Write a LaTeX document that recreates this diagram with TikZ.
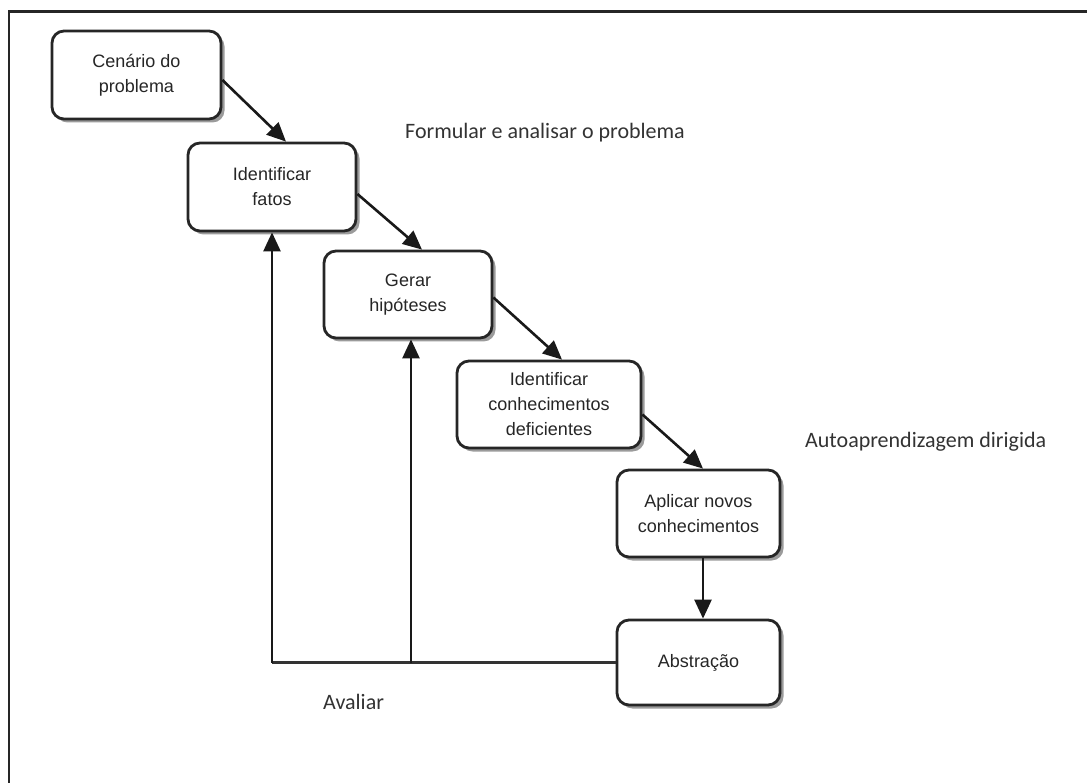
\documentclass[tikz,border=0pt]{standalone}
\usepackage{fontspec}
\setmainfont{Liberation Sans}
\newfontfamily\labfont{Carlito}
\usetikzlibrary{arrows.meta,shadows}
\definecolor{boxtext}{HTML}{262626}
\definecolor{labtext}{HTML}{333333}
\begin{document}
\begin{tikzpicture}[x=1pt,y=-1pt,
  stepbox/.style={draw=black!85, line width=2.8pt, rounded corners=12pt, fill=white,
    align=center, inner sep=0pt, text=boxtext,
    font=\fontsize{18}{25}\selectfont,
    drop shadow={shadow xshift=3.5pt, shadow yshift=-3.5pt, fill=black!60, opacity=0.65}},
  conn/.style={line width=2.6pt, draw=black!90, -{Triangle[width=17pt,length=19pt]}},
  plain/.style={line width=2.6pt, draw=black!80},
  lab/.style={anchor=base west, inner sep=0pt, text=labtext, font=\labfont\fontsize{22}{26}\selectfont}]
\useasboundingbox (0,0) rectangle (1087,783);
\fill[white] (0,0) rectangle (1087,783);
% outer frame
\draw[line width=2.2pt, black!85] (9,783) -- (9,11.5) -- (1087,11.5);
% boxes
\node[stepbox, minimum width=169pt, minimum height=88pt] (cen) at (136.5,75) {Cenário do\\problema};
\node[stepbox, minimum width=168pt, minimum height=88pt] (fat) at (272,187) {Identificar\\fatos};
\node[stepbox, minimum width=168pt, minimum height=87pt] (ger) at (408,294.5) {Gerar\\hipóteses};
\node[stepbox, minimum width=184pt, minimum height=87pt] (idc) at (549,404.5) {Identificar\\conhecimentos\\deficientes};
\node[stepbox, minimum width=163pt, minimum height=87pt] (apl) at (698.5,513.5) {Aplicar novos\\conhecimentos};
\node[stepbox, minimum width=163pt, minimum height=85pt] (abs) at (698.5,662.5) {Abstração};
% connectors
\draw[conn] ([yshift=-5pt]cen.east) -- ([xshift=14pt]fat.north);
\draw[conn] ([yshift=-7pt]fat.east) -- ([xshift=14pt]ger.north);
\draw[conn] ([yshift=-3pt]ger.east) -- ([xshift=13pt]idc.north);
\draw[conn] ([yshift=-10pt]idc.east) -- ([xshift=4.5pt]apl.north);
\draw[conn] ([xshift=4.5pt]apl.south) -- ([xshift=4.5pt]abs.north);
\coordinate (j1) at (fat.south |- abs.west);
\coordinate (j2) at ([xshift=3pt]ger.south |- abs.west);
\draw[plain] (abs.west) -- (j1);
\draw[conn] (j1) -- (fat.south);
\draw[conn] (j2) -- ([xshift=3pt]ger.south);
% labels
\node[lab] (l1) at (405,139) {Formular e analisar o problema};
\node[lab] (l2) at (805,447) {Autoaprendizagem dirigida};
\node[lab] (l3) at (323,709) {Avaliar};
\end{tikzpicture}
\end{document}
